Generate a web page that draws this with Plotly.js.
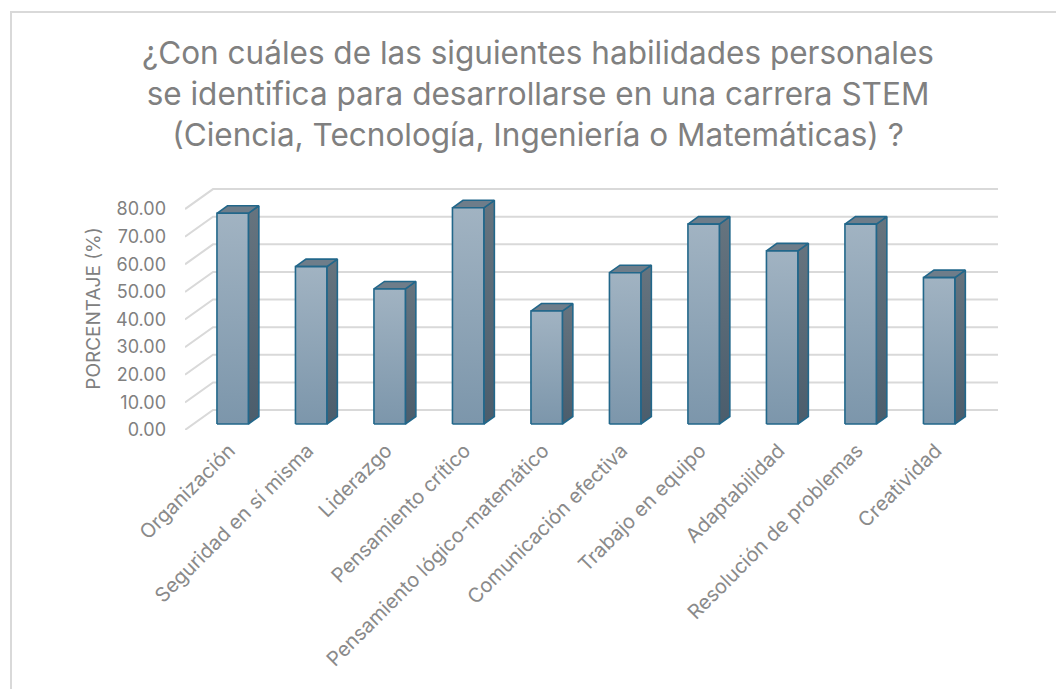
<!DOCTYPE html>
<html>
<head>
<meta charset="utf-8">
<script src="https://cdn.plot.ly/plotly-3.0.1.min.js"></script>
<style>
  html, body { margin: 0; padding: 0; background: #ffffff; overflow: hidden; }
  #wrap { position: relative; width: 1056px; height: 689px; overflow: hidden; }
  #chart { position: absolute; left: 0; top: 0; width: 1056px; height: 689px; }
  #frame { position: absolute; left: 10px; top: 11px; width: 1100px; height: 800px;
           border: 2px solid #d9d9d9; box-sizing: border-box; pointer-events: none; }
</style>
</head>
<body>
<div id="wrap">
  <div id="chart"></div>
  <div id="frame"></div>
</div>
<script>
// ---- Data ----
const categories = [
  "Organización",
  "Seguridad en sí misma",
  "Liderazgo",
  "Pensamiento crítico",
  "Pensamiento lógico-matemático",
  "Comunicación efectiva",
  "Trabajo en equipo",
  "Adaptabilidad",
  "Resolución de problemas",
  "Creatividad"
];
const values = [76.3, 57.0, 48.9, 78.3, 40.9, 54.8, 72.4, 62.7, 72.4, 53.0];
const yTickValues = [0, 10, 20, 30, 40, 50, 60, 70, 80];
const chartTitle = "¿Con cuáles de las siguientes habilidades personales<br>se identifica para desarrollarse en una carrera STEM<br>(Ciencia, Tecnología, Ingeniería o Matemáticas) ?";
const yTitle = "PORCENTAJE (%)";

// ---- 3D-look geometry (axis units) ----
const DX = 0.357;   // depth offset along x (categories)
const DY = 7.24;    // depth offset along y (percent)
const FRONT = 0.3, BACK = 0.675, HW = 0.2;
const n = categories.length;
const xMin = -0.5, xMax = n - 0.5 + DX;

const traces = [];

// back-wall gridlines + side-wall diagonals
const gx = [], gy = [];
yTickValues.forEach(t => {
  gx.push(xMin, xMin + DX, n - 0.5 + DX, null);
  gy.push(t, t + DY, t + DY, null);
});
traces.push({
  type: 'scatter', mode: 'lines', x: gx, y: gy,
  line: { color: '#d9d9d9', width: 2 }, hoverinfo: 'skip', showlegend: false
});

const outline = { color: '#22678a', width: 1.6 };
values.forEach((v, i) => {
  const x0 = i - HW + FRONT * DX, x1 = i + HW + FRONT * DX;
  const y0 = FRONT * DY, y1 = v + FRONT * DY;
  const tdx = (BACK - FRONT) * DX, tdy = (BACK - FRONT) * DY;
  // side face
  traces.push({
    type: 'scatter', mode: 'lines', fill: 'toself',
    x: [x1, x1 + tdx, x1 + tdx, x1, x1],
    y: [y0, y0 + tdy, y1 + tdy, y1, y0],
    fillgradient: { type: 'vertical', colorscale: [[0, '#4b5d6c'], [1, '#66747f']] },
    line: outline, hoverinfo: 'skip', showlegend: false
  });
  // top face
  traces.push({
    type: 'scatter', mode: 'lines', fill: 'toself',
    x: [x0, x1, x1 + tdx, x0 + tdx, x0],
    y: [y1, y1, y1 + tdy, y1 + tdy, y1],
    fillcolor: '#6e7d8a',
    line: outline, hoverinfo: 'skip', showlegend: false
  });
  // front face
  traces.push({
    type: 'scatter', mode: 'lines', fill: 'toself',
    x: [x0, x1, x1, x0, x0],
    y: [y0, y0, y1, y1, y0],
    fillgradient: { type: 'vertical', colorscale: [[0, '#7c96ab'], [1, '#a1b3c2']] },
    line: outline, hoverinfo: 'skip', showlegend: false
  });
});

const fontFam = 'Inter, "Open Sans", sans-serif';
const layout = {
  width: 1056, height: 689,
  paper_bgcolor: '#ffffff', plot_bgcolor: 'rgba(0,0,0,0)',
  margin: { l: 185, r: 58, t: 187, b: 259 },
  showlegend: false,
  title: {
    text: chartTitle,
    x: 538 / 1056, xanchor: 'center', xref: 'container',
    y: 1 - 64 / 689, yanchor: 'middle', yref: 'container',
    font: { family: fontFam, size: 31.5, color: '#808080' }
  },
  xaxis: {
    type: 'linear', range: [xMin, xMax], fixedrange: true,
    tickmode: 'array', tickvals: categories.map((c, i) => i), ticktext: categories,
    tickangle: -45, showgrid: false, zeroline: false, showline: false, ticks: '',
    ticklabelshift: 5, ticklabelstandoff: 4,
    tickfont: { family: fontFam, size: 20, color: '#8a8a8a' },
    title: { text: '' }
  },
  yaxis: {
    range: [0, 88], fixedrange: true,
    tickmode: 'array', tickvals: yTickValues, tickformat: '.2f',
    showgrid: false, zeroline: false, showline: false, ticks: '',
    ticklabelstandoff: 18,
    tickfont: { family: fontFam, size: 18, color: '#808080' },
    title: { text: yTitle, standoff: 10, font: { family: fontFam, size: 19, color: '#808080' } }
  }
};

Plotly.newPlot('chart', traces, layout, { displayModeBar: false, staticPlot: true });
</script>
</body>
</html>
